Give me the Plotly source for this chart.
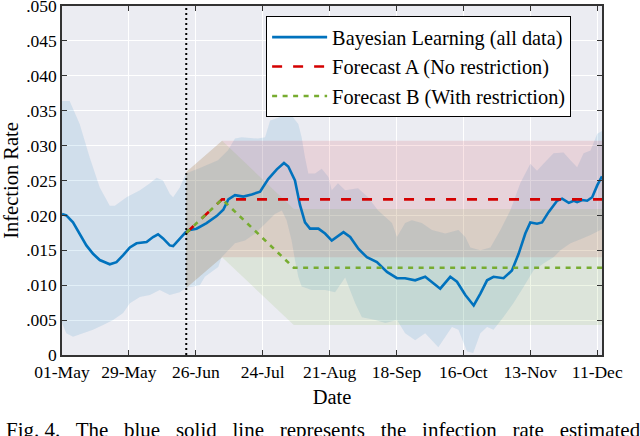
import pandas as pd
import plotly.graph_objects as go

# ---------------- data ----------------
base_date = "2020-05-01"
x_end_day = 226
forecast_start_day = 52

bl_day = [0, 1.8, 4.6, 7.4, 10.2, 13.0, 15.8, 20.0, 22.8, 25.6, 28.4, 31.2, 35.4, 38.1,
          40.2, 42.3, 45.1, 46.5, 48.6, 51.8, 53.5, 56.3, 60.5, 64.7, 67.5, 69.6, 72.4,
          75.9, 79.4, 82.9, 86.3, 89.9, 92.9, 94.7, 97.5, 99.6, 101.7, 103.8, 107.3,
          110.1, 112.9, 115.0, 117.8, 120.6, 124.1, 127.6, 131.8, 136.0, 140.2, 143.6,
          147.8, 152.0, 154.8, 158.3, 162.5, 165.3, 168.8, 172.3, 175.1, 177.9, 180.6,
          184.8, 188.3, 191.1, 193.9, 196.0, 198.8, 200.9, 203.7, 207.2, 209.3, 212.1,
          214.2, 215.6, 217.7, 219.8, 221.9, 224.0, 226.0]
bl_rate = [0.0202, 0.0200, 0.0190, 0.0174, 0.0157, 0.0145, 0.0136, 0.0130, 0.0133, 0.0143,
           0.0154, 0.0160, 0.0162, 0.0169, 0.0173, 0.0167, 0.0157, 0.0156, 0.0164, 0.0176,
           0.0179, 0.0181, 0.0189, 0.0199, 0.0208, 0.0223, 0.0229, 0.0227, 0.0230, 0.0234,
           0.0252, 0.0266, 0.0275, 0.0270, 0.0250, 0.0215, 0.0190, 0.0181, 0.0181, 0.0174,
           0.0164, 0.0169, 0.0176, 0.0169, 0.0152, 0.0140, 0.0133, 0.0119, 0.0110, 0.0110,
           0.0107, 0.0112, 0.0105, 0.0095, 0.0112, 0.0105, 0.0086, 0.0071, 0.0088, 0.0107,
           0.0112, 0.0110, 0.0121, 0.0145, 0.0174, 0.0190, 0.0188, 0.0190, 0.0205, 0.0221,
           0.0224, 0.0218, 0.0221, 0.0219, 0.0222, 0.0221, 0.0226, 0.0243, 0.0256]

bl_up_day = [0, 3.2, 7.4, 11.6, 15.8, 20.0, 22.1, 27.0, 32.6, 36.8, 39.6, 42.3, 45.1, 46.5,
             49.3, 51.8, 57.7, 65.3, 69.4, 72.4, 75.2, 82.0, 85.0, 87.1, 90.5, 93.3, 96.1,
             98.9, 100.3, 101.7, 103.1, 105.9, 108.7, 111.5, 112.9, 115.5, 118.5, 123.9,
             128.1, 132.3, 138.1, 140.2, 143.6, 146.4, 150.6, 154.8, 160.4, 165.9, 168.8,
             170.9, 175.1, 179.3, 183.5, 187.6, 191.8, 196.0, 198.8, 201.5, 205.7, 209.9,
             212.8, 215.6, 218.3, 221.2, 224.0, 226.0]
bl_up = [0.0364, 0.0364, 0.0331, 0.0283, 0.0240, 0.0214, 0.0214, 0.0226, 0.0236, 0.0246,
         0.0254, 0.0250, 0.0231, 0.0226, 0.0240, 0.0260, 0.0268, 0.0279, 0.0293, 0.0310,
         0.0312, 0.0310, 0.0312, 0.0336, 0.0340, 0.0345, 0.0343, 0.0331, 0.0312, 0.0283,
         0.0260, 0.0260, 0.0267, 0.0255, 0.0236, 0.0246, 0.0236, 0.0239, 0.0226, 0.0207,
         0.0189, 0.0169, 0.0189, 0.0193, 0.0189, 0.0179, 0.0174, 0.0179, 0.0169, 0.0154,
         0.0150, 0.0154, 0.0179, 0.0207, 0.0246, 0.0274, 0.0264, 0.0274, 0.0289, 0.0290,
         0.0279, 0.0269, 0.0289, 0.0293, 0.0317, 0.0321]
bl_lo_day = [0, 1.8, 4.6, 8.8, 13.0, 17.2, 21.4, 25.6, 28.4, 32.6, 36.8, 40.9, 45.1, 49.3,
             51.8, 57.7, 59.8, 65.4, 66.8, 68.2, 72.4, 76.6, 80.8, 85.0, 89.1, 92.0, 94.0,
             96.1, 97.5, 98.9, 100.3, 104.5, 110.1, 114.3, 118.5, 122.7, 125.5, 131.1,
             135.3, 140.2, 143.6, 147.8, 152.0, 157.5, 163.2, 165.9, 169.5, 172.1, 175.1,
             177.9, 180.6, 184.7, 188.9, 193.1, 197.3, 201.5, 205.7, 208.6, 212.8, 217.0,
             221.2, 226.0]
bl_lo = [0.0046, 0.0031, 0.0026, 0.0031, 0.0036, 0.0043, 0.0050, 0.0060, 0.0074, 0.0083,
         0.0086, 0.0093, 0.0086, 0.0090, 0.0096, 0.0100, 0.0112, 0.0126, 0.0140, 0.0145,
         0.0160, 0.0164, 0.0174, 0.0188, 0.0202, 0.0207, 0.0193, 0.0164, 0.0136, 0.0112,
         0.0098, 0.0093, 0.0093, 0.0090, 0.0111, 0.0074, 0.0054, 0.0050, 0.0046, 0.0050,
         0.0031, 0.0021, 0.0031, 0.0011, 0.0040, 0.0036, 0.0005, 0.0003, 0.0031, 0.0040,
         0.0036, 0.0054, 0.0074, 0.0097, 0.0121, 0.0131, 0.0140, 0.0150, 0.0160, 0.0166,
         0.0172, 0.0180]

fa_day = [52, 67, 226]
fa_rate = [0.0175, 0.0223, 0.0223]
fa_up = [0.0262, 0.0307, 0.0307]
fa_lo = [0.0096, 0.0140, 0.0140]

fb_day = [52, 67, 97, 226]
fb_rate = [0.0175, 0.0223, 0.0125, 0.0125]
fb_up = [0.0262, 0.0307, 0.0209, 0.0209]
fb_lo = [0.0096, 0.0140, 0.0043, 0.0043]

x_tick_days = [0, 28, 56, 84, 112, 140, 168, 196, 224]
x_tick_text = ["01-May", "29-May", "26-Jun", "24-Jul", "21-Aug", "18-Sep", "16-Oct", "13-Nov", "11-Dec"]
y_tick_vals = [0, 0.005, 0.010, 0.015, 0.020, 0.025, 0.030, 0.035, 0.040, 0.045, 0.050]
y_tick_text = ["0", ".005", ".010", ".015", ".020", ".025", ".030", ".035", ".040", ".045", ".050"]

legend_names = ["Bayesian Learning (all data)", "Forecast A (No restriction)",
                "Forecast B (With restriction)"]
caption = "Fig. 4.\u2002 The\u2002 blue\u2002 solid\u2002 line\u2002 represents\u2002 the\u2002 infection\u2002 rate\u2002 estimated"

b0 = pd.Timestamp(base_date)


def to_dates(days):
    return [b0 + pd.Timedelta(days=float(d)) for d in days]


def band(days_up, up, days_lo, lo):
    xs = to_dates(days_up) + to_dates(days_lo)[::-1]
    ys = list(up) + list(lo)[::-1]
    return xs, ys


FONT = "serif"
AXC = "#333333"

fig = go.Figure()

bx, by = band(bl_up_day, bl_up, bl_lo_day, bl_lo)
fig.add_trace(go.Scatter(x=bx, y=by, fill="toself", mode="none",
                         fillcolor="rgba(0,114,189,0.115)", showlegend=False, hoverinfo="skip"))
ax_, ay_ = band(fa_day, fa_up, fa_day, fa_lo)
fig.add_trace(go.Scatter(x=ax_, y=ay_, fill="toself", mode="none",
                         fillcolor="rgba(200,0,20,0.105)", showlegend=False, hoverinfo="skip"))
bx2, by2 = band(fb_day, fb_up, fb_day, fb_lo)
fig.add_trace(go.Scatter(x=bx2, y=by2, fill="toself", mode="none",
                         fillcolor="rgba(119,172,48,0.12)", showlegend=False, hoverinfo="skip"))

fig.add_trace(go.Scatter(x=to_dates(bl_day), y=bl_rate, mode="lines", name=legend_names[0],
                         line=dict(color="#0072BD", width=2.6)))
fig.add_trace(go.Scatter(x=to_dates(fa_day), y=fa_rate, mode="lines", name=legend_names[1],
                         line=dict(color="#D40000", width=2.6, dash="10px,11px")))
fig.add_trace(go.Scatter(x=to_dates(fb_day), y=fb_rate, mode="lines", name=legend_names[2],
                         line=dict(color="#77AC30", width=2.6, dash="5px,5.5px")))

fs = to_dates([forecast_start_day])[0]
fig.add_trace(go.Scatter(x=[fs, fs], y=[y_tick_vals[0], y_tick_vals[-1]], mode="lines",
                         line=dict(color="black", width=2, dash="2px,3px"),
                         showlegend=False, hoverinfo="skip"))

fig.add_annotation(text=caption, xref="paper", yref="paper", x=-0.108, y=-0.216,
                   xanchor="left", yanchor="middle", showarrow=False,
                   font=dict(family=FONT, size=21, color="black"))

fig.update_layout(
    width=640, height=436,
    margin=dict(l=62, r=38, t=6, b=81, autoexpand=False),
    paper_bgcolor="white", plot_bgcolor="#EBECF2",
    font=dict(family=FONT, size=17.5, color="black"),
    showlegend=True,
    legend=dict(x=0.378, y=0.97, xanchor="left", yanchor="top",
                bgcolor="white", bordercolor="black", borderwidth=1,
                font=dict(family=FONT, size=20.3, color="black"),
                traceorder="normal", itemwidth=55, entrywidth=256, entrywidthmode="pixels"),
)
fig.update_xaxes(
    type="date", range=to_dates([0, x_end_day]), automargin=False,
    tickvals=to_dates(x_tick_days), ticktext=x_tick_text,
    tickfont=dict(family=FONT, size=17.5), ticklabeloverflow="allow",
    ticks="inside", ticklen=5, tickcolor=AXC, tickwidth=1.2,
    showline=True, linecolor=AXC, linewidth=1.5, mirror="ticks",
    showgrid=True, gridcolor="white", gridwidth=1, zeroline=False,
    title=dict(text="Date", font=dict(family=FONT, size=20.5), standoff=9),
)
fig.update_yaxes(
    range=[y_tick_vals[0], y_tick_vals[-1]], automargin=False,
    tickvals=y_tick_vals, ticktext=y_tick_text,
    tickfont=dict(family=FONT, size=17.5), ticklabeloverflow="allow",
    ticks="inside", ticklen=5, tickcolor=AXC, tickwidth=1.2,
    showline=True, linecolor=AXC, linewidth=1.5, mirror="ticks",
    showgrid=True, gridcolor="white", gridwidth=1, zeroline=False,
    title=dict(text="Infection Rate", font=dict(family=FONT, size=20.5), standoff=7),
)

fig.write_html("out.html", config={"displayModeBar": False},
               post_script="document.body.style.margin='0';document.body.style.padding='0';")
